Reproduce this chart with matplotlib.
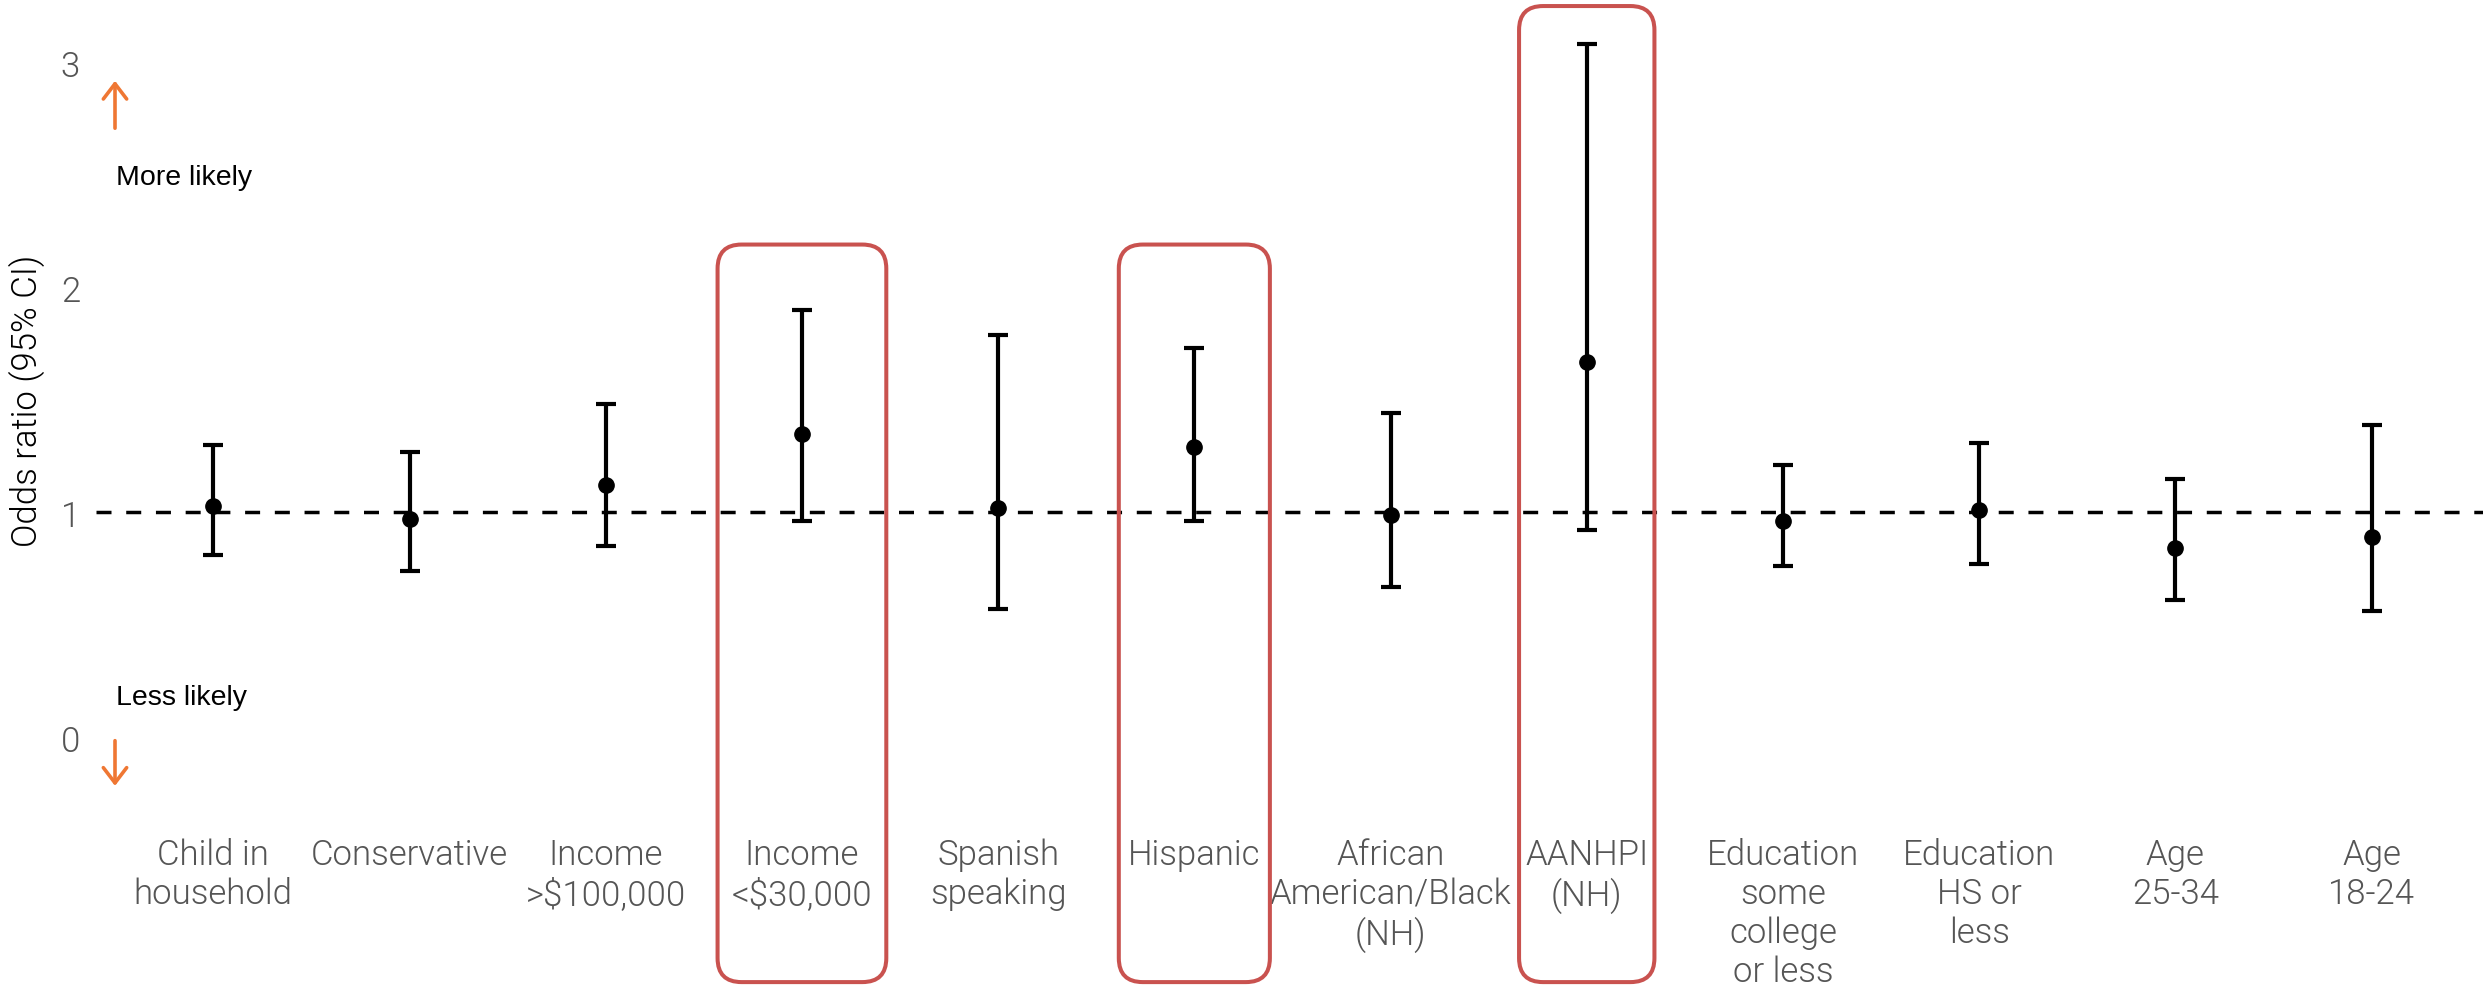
import matplotlib
matplotlib.use("Agg")
import matplotlib.pyplot as plt
import matplotlib.transforms as mtransforms
from matplotlib.patches import FancyBboxPatch

# ---- data -------------------------------------------------------------
categories = [
    "Child in\nhousehold",
    "Conservative",
    "Income\n>$100,000",
    "Income\n<$30,000",
    "Spanish\nspeaking",
    "Hispanic",
    "African\nAmerican/Black\n(NH)",
    "AANHPI\n(NH)",
    "Education\nsome\ncollege\nor less",
    "Education\nHS or\nless",
    "Age\n25-34",
    "Age\n18-24",
]
odds_ratio = [1.03, 0.97, 1.12, 1.35, 1.02, 1.29, 0.99, 1.67, 0.96, 1.01, 0.84, 0.89]
ci_low = [0.81, 0.74, 0.85, 0.96, 0.57, 0.96, 0.67, 0.92, 0.76, 0.77, 0.61, 0.56]
ci_high = [1.30, 1.27, 1.48, 1.90, 1.79, 1.73, 1.44, 3.08, 1.21, 1.31, 1.15, 1.39]
y_ticks = [0, 1, 2, 3]
reference_value = 1
highlighted = [3, 5, 7]

# ---- style ------------------------------------------------------------
plt.rcParams["lines.scale_dashes"] = False
FAMILY = ["Roboto", "DejaVu Sans"]
LIGHT_WEIGHT = 300
ORANGE = "#EF7733"
RED = "#C9524F"
DPI = 100
W, H = 2483, 995

fig = plt.figure(figsize=(W / DPI, H / DPI), dpi=DPI)
fig.patch.set_facecolor("white")

ymin, ymax = 0.0, 3.25
px_per_unit = 225.0
ax_left_px, ax_zero_px = 96.0, 738.3
ax = fig.add_axes([ax_left_px / W, (H - ax_zero_px) / H, 1 - ax_left_px / W,
                   (ymax - ymin) * px_per_unit / H])

x = list(range(len(categories)))
ax.set_xlim(-0.598, 11.568)
ax.set_ylim(ymin, ymax)

# reference line at odds ratio = 1
ax.axhline(reference_value, color="black", lw=2.5, ls=(0, (10.8, 10.6)), zorder=1)

# point estimates with confidence intervals
yerr = [[o - lo for o, lo in zip(odds_ratio, ci_low)],
        [hi - o for o, hi in zip(odds_ratio, ci_high)]]
ax.errorbar(x, odds_ratio, yerr=yerr, fmt="o", color="black", ms=11,
            elinewidth=3.0, capsize=7.1, capthick=3.0, zorder=3, clip_on=False)

for s in ax.spines.values():
    s.set_visible(False)

ax.set_yticks(y_ticks, [str(t) for t in y_ticks])
ax.tick_params(axis="y", length=0, pad=11.5, labelsize=25, labelcolor="#555555")
ax.set_xticks(x, categories)
ax.tick_params(axis="x", length=0, pad=72.5, labelsize=25, labelcolor="#555555")
for lab in ax.get_xticklabels() + ax.get_yticklabels():
    lab.set_fontfamily(FAMILY)
    lab.set_fontweight(LIGHT_WEIGHT)
for lab in ax.get_xticklabels():
    lab.set_verticalalignment("top")
    lab.set_linespacing(1.2)

# y-axis title and direction hints
blend = mtransforms.blended_transform_factory(fig.transFigure, ax.transData)
ax.text(27 / W, 1.5, "Odds ratio (95% CI)", transform=blend, rotation=90,
        ha="center", va="center", fontsize=25, color="black", clip_on=False,
        family=FAMILY, weight=LIGHT_WEIGHT)

arrow_x = 115 / W
arrow_style = "->,head_length=0.55,head_width=0.42"
ax.annotate("", xy=(arrow_x, 2.918), xytext=(arrow_x, 2.707), xycoords=blend,
            textcoords=blend, annotation_clip=False,
            arrowprops=dict(arrowstyle=arrow_style, color=ORANGE, lw=2.6,
                            shrinkA=0, shrinkB=0, mutation_scale=20))
ax.annotate("", xy=(arrow_x, -0.216), xytext=(arrow_x, -0.015), xycoords=blend,
            textcoords=blend, annotation_clip=False,
            arrowprops=dict(arrowstyle=arrow_style, color=ORANGE, lw=2.6,
                            shrinkA=0, shrinkB=0, mutation_scale=20))
ax.text(116 / W, 2.459, "More likely", transform=blend, ha="left", va="baseline",
        fontsize=20.5, color="black", family=["Liberation Sans", "DejaVu Sans"],
        clip_on=False)
ax.text(116 / W, 0.148, "Less likely", transform=blend, ha="left", va="baseline",
        fontsize=20.5, color="black", family=["Liberation Sans", "DejaVu Sans"],
        clip_on=False)

# rounded frames around the highlighted groups
box_half_width = [0.43, 0.385, 0.345]
box_top = [2.19, 2.19, 3.25]
box_bottom = -1.088
radius_px = 24
for idx, hw, top in zip(highlighted, box_half_width, box_top):
    (x0, y0) = ax.transData.transform((idx - hw, box_bottom))
    (x1, y1) = ax.transData.transform((idx + hw, top))
    box = FancyBboxPatch((x0, y0), x1 - x0, y1 - y0,
                         boxstyle=f"round,pad=0,rounding_size={radius_px}",
                         fill=False, edgecolor=RED, lw=2.9,
                         transform=mtransforms.IdentityTransform(), zorder=5)
    fig.add_artist(box)

fig.savefig("out.png", dpi=DPI, facecolor="white")
